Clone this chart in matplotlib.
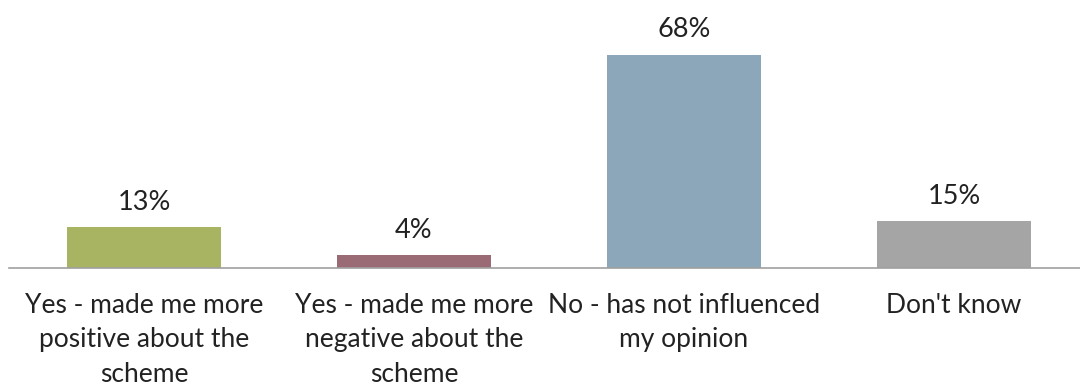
import matplotlib.pyplot as plt

categories = ["Yes - made me more\npositive about the\nscheme",
              "Yes - made me more\nnegative about the\nscheme",
              "No - has not influenced\nmy opinion",
              "Don't know"]
values = [13, 4, 68, 15]
colors = ["#a9b462", "#9b6b75", "#8ba7b9", "#a5a5a5"]

plt.rcParams['font.family'] = ['Lato', 'DejaVu Sans']

fig = plt.figure(figsize=(10.8, 3.88), dpi=100)
ax = fig.add_axes([9 / 1080, 1 - 268 / 388, 1080 / 1080, 235 / 388])

x = range(len(values))
ax.bar(x, values, width=0.57, color=colors)
for xi, v in zip(x, values):
    ax.annotate(f"{v}%", (xi, v), xytext=(0, 9), textcoords="offset points",
                ha="center", va="bottom", fontsize=19.5, color="#222222",
                annotation_clip=False)

ax.set_xlim(-0.5, 3.5)
ax.set_ylim(0, 75)
ax.set_xticks(list(x))
ax.set_xticklabels(categories, fontsize=19, color="#222222", linespacing=1.47)
ax.tick_params(axis="x", length=0, pad=18)
ax.set_yticks([])
for s in ["top", "right", "left"]:
    ax.spines[s].set_visible(False)
ax.spines["bottom"].set_color("#a0a0a0")
ax.spines["bottom"].set_linewidth(1.2)

fig.savefig("out.png", dpi=100)
